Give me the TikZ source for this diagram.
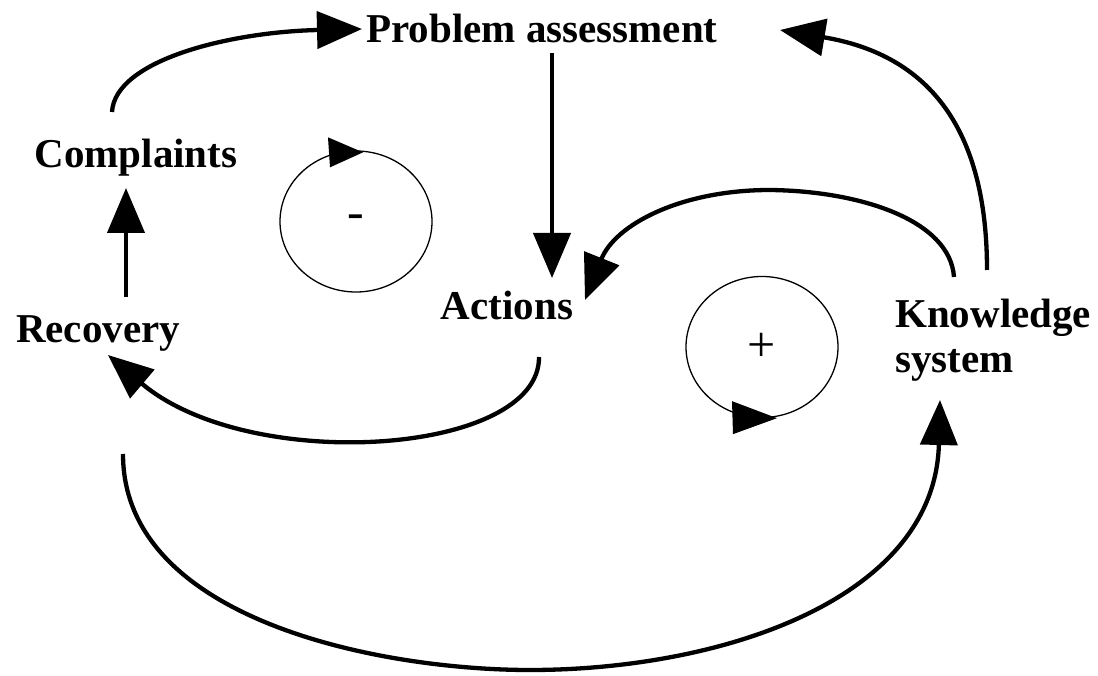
\documentclass[tikz,border=0pt]{standalone}
\usepackage{fontspec}
\setmainfont{Liberation Serif}
\usetikzlibrary{arrows.meta,shapes.geometric}
\begin{document}
\begin{tikzpicture}[x=1pt,y=-1pt,
  lbl/.style={font=\bfseries\fontsize{41}{45}\selectfont, inner sep=0pt},
  loopc/.style={draw, ellipse, line width=1.3pt, inner sep=0pt,
    minimum width=152pt, minimum height=141pt, font=\fontsize{50}{54}\selectfont},
  arr/.style={line width=4.3pt, -{Triangle[length=45pt,width=37pt]}},
  looptip/.style={fill=black}]
\path[fill=white,use as bounding box] (0,0) rectangle (1098,676);

% variables
\node[lbl,anchor=base] (pa) at (542,43) {Problem assessment};
\node[lbl,anchor=base] (comp) at (136,168) {Complaints};
\node[lbl,anchor=base] (rec) at (98,342) {Recovery};
\node[lbl,anchor=base] (act) at (507,320) {Actions};
\node[lbl,anchor=west,align=left] (ks) at (895,340) {Knowledge\\system};

% loop markers
\node[loopc] (neg) at (356,221.5) {-};
\node[loopc] (pos) at (762,347) {+};
\fill[looptip] ([shift={(-28,-13)}]neg.north) -- ([shift={(7,2)}]neg.north) -- ([shift={(-26,17)}]neg.north) -- cycle;
\fill[looptip] ([shift={(-30,-17)}]pos.south) -- ([shift={(15,0)}]pos.south) -- ([shift={(-29,16)}]pos.south) -- cycle;

% connectors
\draw[arr] ([shift={(-24,-56)}]comp.base) .. controls (115,60) and (230,32) .. ([shift={(-180,-14)}]pa.base);
\draw[arr] ([shift={(10,10)}]pa.base) -- ([shift={(45,-42)}]act.base);
\draw[arr] ([shift={(59,-63)}]ks.west) .. controls (950,220) and (860,191) .. (770,190) .. controls (680,190) and (615,225) .. ([shift={(78,-20)}]act.base);
\draw[arr] ([shift={(92,-70)}]ks.west) .. controls (987,130) and (930,55) .. ([shift={(238,-13)}]pa.base);
\draw[arr] ([shift={(28,-45)}]rec.base) -- ([shift={(-10,20)}]comp.base);
\draw[arr] ([shift={(32,37)}]act.base) .. controls (540,455) and (250,475) .. ([shift={(10,13)}]rec.base);
\draw[arr] ([shift={(25,112)}]rec.base) .. controls (123,620) and (380,670) .. (530,670) .. controls (720,670) and (935,600) .. ([shift={(45,60)}]ks.west);
\end{tikzpicture}
\end{document}
